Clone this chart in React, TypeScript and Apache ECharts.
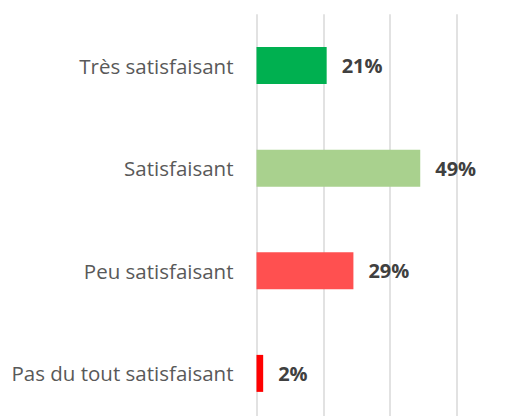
import React, { useEffect, useRef } from "react";
import * as echarts from "echarts";

const categories = ["Très satisfaisant", "Satisfaisant", "Peu satisfaisant", "Pas du tout satisfaisant"];
const values = [21, 49, 29, 2];
const colors = ["#00B050", "#A9D18E", "#FF5050", "#FF0000"];

export default function App() {
  const ref = useRef<HTMLDivElement>(null);
  useEffect(() => {
    const chart = echarts.init(ref.current!, null, { renderer: "svg" });
    chart.setOption({
      animation: false,
      grid: { left: 256.5, top: 14.2, width: 200.5, height: 410.5, containLabel: false },
      xAxis: {
        type: "value",
        min: 0,
        max: 60,
        interval: 20,
        axisLabel: { show: false },
        axisLine: { show: false },
        axisTick: { show: false },
        splitLine: { show: true, lineStyle: { color: "#d9d9d9", width: 1.5 } },
      },
      yAxis: {
        type: "category",
        inverse: true,
        data: categories,
        axisLine: { show: false },
        axisTick: { show: false },
        axisLabel: {
          color: "#595959",
          fontFamily: "Open Sans",
          fontSize: 20.5,
          margin: 23,
        },
      },
      series: [
        {
          type: "bar",
          barWidth: 37,
          data: values.map((v, i) => ({ value: v, itemStyle: { color: colors[i] } })),
          label: {
            show: true,
            position: "right",
            distance: 15,
            formatter: "{c}%",
            color: "#404040",
            fontFamily: "Open Sans",
            fontWeight: "bold",
            fontSize: 20,
          },
        },
      ],
    });
    return () => chart.dispose();
  }, []);
  return (
    <div style={{ width: 520, height: 416, position: "absolute", left: 0, top: 0, overflow: "hidden" }}>
      <div ref={ref} style={{ width: 520, height: 440 }} />
    </div>
  );
}
